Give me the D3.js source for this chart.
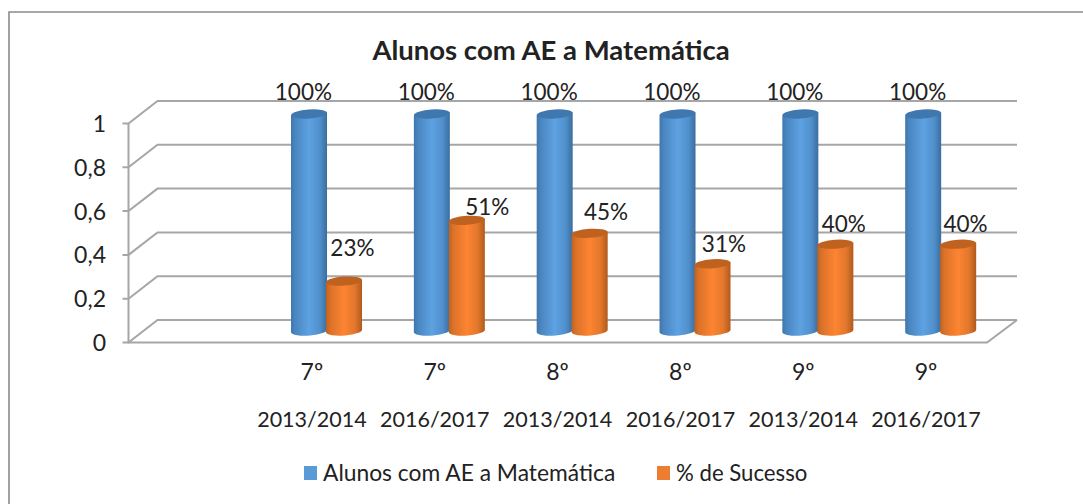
<!DOCTYPE html>
<html><head><meta charset="utf-8">
<style>html,body{margin:0;padding:0;background:#fff}svg{display:block}text{font-family:Lato,'Noto Sans',sans-serif;fill:#222}</style>
<script src="https://cdn.jsdelivr.net/npm/d3@7/dist/d3.min.js"></script>
</head><body><svg id="c" width="1083" height="504"></svg>
<script>
const title = "Alunos com AE a Matemática";
const grades = ["7º","7º","8º","8º","9º","9º"];
const years = ["2013/2014","2016/2017","2013/2014","2016/2017","2013/2014","2016/2017"];
const alunos = [1,1,1,1,1,1];
const sucesso = [0.23,0.51,0.45,0.31,0.40,0.40];
const yTicks = [0,0.2,0.4,0.6,0.8,1];
const tickLabels = ["0","0,2","0,4","0,6","0,8","1"];
const seriesNames = ["Alunos com AE a Matemática","% de Sucesso"];

const svg = d3.select("#c");
const defs = svg.append("defs");
function grad(id, stops){
  const g = defs.append("linearGradient").attr("id",id);
  stops.forEach(s=>g.append("stop").attr("offset",s[0]).attr("stop-color",s[1]));
}
grad("blue",[[0,"#3f77ad"],[.12,"#4a86c0"],[.5,"#5ea2e2"],[.8,"#5090cc"],[1,"#3b6d9e"]]);
grad("orange",[[0,"#bf6220"],[.12,"#db7228"],[.5,"#fd8432"],[.8,"#e2772c"],[1,"#b05a1d"]]);

// border: top and left edges only, the reference crop cuts off the others
svg.append("path").attr("d","M9,504V12H1083").attr("fill","none").attr("stroke","#8a8a8a").attr("stroke-width",1.6);

// frame scales
const yFront = d3.scaleLinear().domain([0,1]).range([342.5,123.5]);
const depthX = 29, depthY = 22.5;
const xLeft = 128.5, xFloorRight = 987, xWallRight = xFloorRight + depthX + 1;
const grid = "#a6a6a6";
const frame = svg.append("g").attr("fill","none").attr("stroke",grid).attr("stroke-width",2);
yTicks.forEach(t=>{
  const y = yFront(t);
  frame.append("path").attr("d",`M${xLeft-6},${y}H${xLeft}L${xLeft+depthX},${y-depthY}H${xWallRight}`);
});
frame.append("path").attr("d",`M${xLeft},${yFront(1)}V${yFront(0)}H${xFloorRight}L${xWallRight},${yFront(0)-depthY}`);

// value axis labels
svg.append("g").selectAll("text").data(yTicks).join("text")
  .attr("x",106).attr("y",d=>yFront(d)+8.5).attr("text-anchor","end")
  .attr("font-size",23).text((d,i)=>tickLabels[i]);

// bars
const x = d3.scaleBand().domain(d3.range(grades.length)).range([186,923]);
const yBar = d3.scaleLinear().domain([0,1]).range([331,114]);
const bw = 36, rx = bw/2, ry = 4.5, tilt = -4;
function cyl(g, cx, v, fill, topFill){
  const yT = yBar(v), yB = yBar(0);
  g.append("path").attr("fill",`url(#${fill})`)
   .attr("d",`M${cx-rx},${yT+1.5}V${yB+1.5}A${rx},${ry} ${tilt} 0 0 ${cx+rx},${yB-1.5}V${yT-1.5}Z`);
  g.append("ellipse").attr("cx",cx).attr("cy",yT).attr("rx",rx).attr("ry",ry)
   .attr("transform",`rotate(${tilt} ${cx} ${yT})`).attr("fill",topFill);
}
const bars = svg.append("g");
grades.forEach((_,i)=>{
  const c = x(i)+x.bandwidth()/2;
  cyl(bars, c+61.6, alunos[i], "blue", "#3f78ae");
  cyl(bars, c+96.6, sucesso[i], "orange", "#bf6220");
});
// data labels (manually placed in the reference, so each has its own nudge)
const nudgeX = [105,117,113,108,105,104];
const nudgeY = [25,5,13,12,12,12];
const labels = svg.append("g").attr("font-size",22.5).attr("text-anchor","middle");
grades.forEach((_,i)=>{
  const c = x(i)+x.bandwidth()/2;
  labels.append("text").attr("x",c+56).attr("y",yBar(alunos[i])-14).text(d3.format(".0%")(alunos[i]));
  labels.append("text").attr("x",c+nudgeX[i]).attr("y",yBar(sucesso[i])-nudgeY[i]).text(d3.format(".0%")(sucesso[i]));
});
// category labels
const cats = svg.append("g").attr("text-anchor","middle");
grades.forEach((g,i)=>{
  const c = x(i)+x.bandwidth()/2;
  cats.append("text").attr("font-size",23).attr("x",c+64.5).attr("y",380).text(g);
  cats.append("text").attr("font-size",21.5).attr("x",c+64.5).attr("y",427).text(years[i]);
});
// title
svg.append("text").attr("x",551).attr("y",60).attr("text-anchor","middle")
  .attr("font-size",27.5).attr("font-weight",700).attr("fill","#111").text(title);
// legend
const lg = svg.append("g");
[["#5b9bd5",304,seriesNames[0],323,22.8],["#ed7d31",657,seriesNames[1],676,22.2]].forEach(d=>{
  lg.append("rect").attr("x",d[1]).attr("y",466).attr("width",13).attr("height",14).attr("fill",d[0]);
  lg.append("text").attr("x",d[3]).attr("y",481).attr("font-size",d[4]).text(d[2]);
});
</script></body></html>
